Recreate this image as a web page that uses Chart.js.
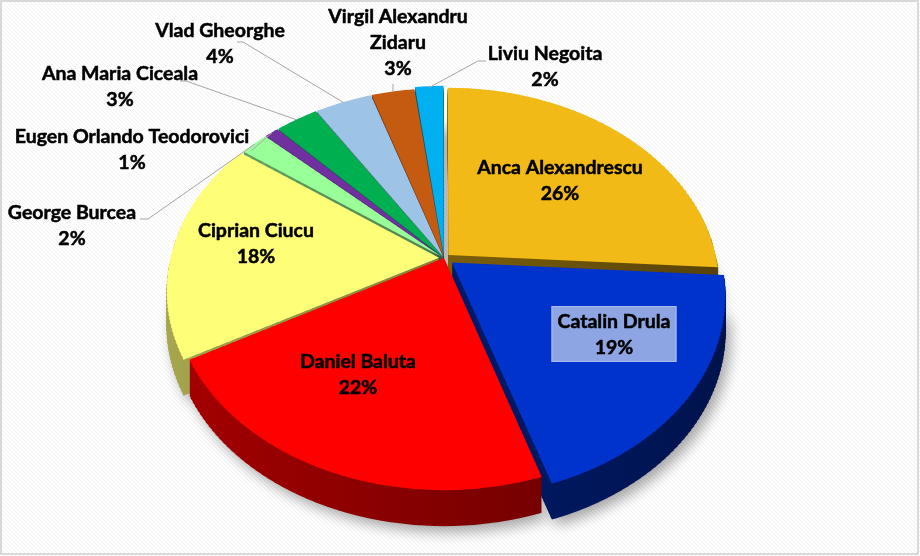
<!DOCTYPE html>
<html>
<head>
<meta charset="utf-8">
<script src="https://cdn.jsdelivr.net/npm/chart.js@4/dist/chart.umd.min.js"></script>
<style>
  html, body { margin: 0; padding: 0; background: #fff; }
</style>
</head>
<body>
<canvas id="votesChart" width="920" height="556"></canvas>
<script>
// Data (percent of votes)
const candidates = [
    'Anca Alexandrescu', 'Catalin Drula', 'Daniel Baluta', 'Ciprian Ciucu', 'George Burcea',
    'Eugen Orlando Teodorovici', 'Ana Maria Ciceala', 'Vlad Gheorghe', 'Virgil Alexandru Zidaru', 'Liviu Negoita'
];
const shares = [26, 19, 22, 18, 2, 1, 3, 4, 3, 2];
const sliceColors = ['#F2BA16', '#0033CC', '#FF0000', '#FFFF77', '#99FF99', '#7030A0', '#00B050', '#9DC3E6', '#C55A11', '#00B0F0'];
const sliceOffsets = [24, 40, 0, 20, 8, 8, 8, 8, 8, 16];

// Label layout (text anchor, optional leader line start, optional box / wrap)
const labelLayout = [
    { x: 560, y: 168 },
    { x: 614, y: 322, box: true },
    { x: 358, y: 362 },
    { x: 256, y: 231 },
    { x: 72, y: 213, leader: [[140, 219], [148, 219]] },
    { x: 132, y: 137, leader: [[252, 150]] },
    { x: 120, y: 74, leader: [[180, 81], [186, 81]] },
    { x: 220, y: 31, leader: [[237, 42], [243, 42]] },
    { x: 398, y: 17, wrap: true, leader: [[393, 84]] },
    { x: 545, y: 54, leader: [[486, 61], [478, 61]] }
];

const W = 920, H = 556;
const cx = 444, cy = 258;      // apex of the pie
const R = 268;
const persp = 0.16 / R;        // perspective strength
const sx0 = 1.0, sy0 = 0.7276; // horizontal / vertical scale at the apex
const depth = 36;
const lineH = 26;
const bandH = 4;

function shade(hex, f) {
    const n = parseInt(hex.slice(1), 16);
    const r = Math.round(((n >> 16) & 255) * f);
    const g = Math.round(((n >> 8) & 255) * f);
    const b = Math.round((n & 255) * f);
    return `rgb(${r},${g},${b})`;
}

// chart plane (pixels) -> tilted screen position
function project(px, py) {
    const X = px - cx, Y = py - cy;
    const w = 1 - persp * Y;
    return { x: cx + X * sx0 / w, y: cy + Y * sy0 / w };
}

// horizontal screen bands, each drawn with its own affine approximation
const bands = [];
for (let y0 = 66; y0 < 514; y0 += bandH) {
    const u0 = y0 - cy, u1 = y0 + bandH - cy;
    const Y0 = u0 / (sy0 + u0 * persp), Y1 = u1 / (sy0 + u1 * persp);
    const Ym = (Y0 + Y1) / 2;
    const w = 1 - persp * Ym;
    bands.push({ y0: y0, s: sx0 / w, k: sy0 / (w * w), sy: cy + Ym * sy0 / w, Ym: Ym });
}

function arcExtent(arc) {
    const p = arc.getProps(['x', 'y', 'startAngle', 'endAngle', 'outerRadius'], true);
    const off = (arc.options.offset || 0) / 4;
    const mid = (p.startAngle + p.endAngle) / 2;
    const ox = p.x + Math.cos(mid) * off, oy = p.y + Math.sin(mid) * off;
    const r = p.outerRadius + off + 2;
    let min = oy, max = oy;
    for (let j = 0; j <= 24; j++) {
        const a = p.startAngle + (p.endAngle - p.startAngle) * j / 24;
        const y = oy + Math.sin(a) * r;
        min = Math.min(min, y);
        max = Math.max(max, y);
    }
    return { min: project(cx, min).y - 2, max: project(cx, max).y + 2 };
}

function drawBanded(ctx, arcs, ext, dy, styleFor) {
    bands.forEach(B => {
        const list = [];
        arcs.forEach((arc, i) => {
            if (ext[i].min < B.y0 + bandH && ext[i].max > B.y0) list.push(i);
        });
        if (!list.length) return;
        ctx.save();
        ctx.beginPath();
        ctx.rect(0, B.y0 + dy, W, bandH);
        ctx.clip();
        ctx.transform(B.s, 0, 0, B.k, cx - B.s * cx, B.sy + dy - B.k * (cy + B.Ym));
        list.forEach(i => {
            const arc = arcs[i];
            const saved = arc.options;
            if (styleFor) arc.options = Object.assign({}, saved, styleFor(i));
            arc.draw(ctx);
            arc.options = saved;
        });
        ctx.restore();
    });
}

const pie3d = {
    id: 'pie3d',
    beforeDraw(chart) {
        const ctx = chart.ctx;
        ctx.save();
        ctx.fillStyle = '#ffffff';
        ctx.fillRect(0, 0, W, H);
        ctx.strokeStyle = '#f3f3f3';
        ctx.lineWidth = 1;
        ctx.beginPath();
        for (let s = -H; s < W; s += 4) {
            ctx.moveTo(s, 0);
            ctx.lineTo(s + H, H);
        }
        ctx.stroke();
        ctx.strokeStyle = '#d9d9d9';
        ctx.lineWidth = 2;
        ctx.strokeRect(1, 1, W - 3, H - 3);
        ctx.restore();
    },
    beforeDatasetsDraw(chart) {
        const ctx = chart.ctx;
        const arcs = chart.getDatasetMeta(0).data;
        const ext = arcs.map(arcExtent);

        // soft shadow under the pie
        const off = document.createElement('canvas');
        off.width = W;
        off.height = H;
        drawBanded(off.getContext('2d'), arcs, ext, depth, () => ({ backgroundColor: '#000000', borderWidth: 0 }));
        ctx.save();
        ctx.filter = 'blur(7px)';
        ctx.globalAlpha = 0.35;
        ctx.drawImage(off, 5, 6);
        ctx.restore();

        // side walls, stacked from the bottom up
        const sides = sliceColors.map(c => {
            const g = ctx.createLinearGradient(cx - R, 0, cx + R, 0);
            g.addColorStop(0, shade(c, 0.66));
            g.addColorStop(1, shade(c, 0.36));
            return g;
        });
        const sideStyle = i => ({ backgroundColor: sides[i], borderWidth: 0 });
        for (let d = depth; d >= 1; d--) {
            drawBanded(ctx, arcs, ext, d, sideStyle);
        }
        // top faces
        drawBanded(ctx, arcs, ext, 0, null);
        return false;
    },
    afterDraw(chart) {
        const ctx = chart.ctx;
        const arcs = chart.getDatasetMeta(0).data;
        const total = shares.reduce((a, b) => a + b, 0);
        ctx.save();
        ctx.font = 'bold 19.5px Lato';
        ctx.textAlign = 'center';
        ctx.textBaseline = 'middle';
        labelLayout.forEach((L, i) => {
            let lines = [candidates[i]];
            if (L.wrap) {
                const words = candidates[i].split(' ');
                lines = [words.slice(0, -1).join(' '), words[words.length - 1]];
            }
            lines.push(Math.round(shares[i] / total * 100) + '%');

            if (L.leader) {
                const arc = arcs[i];
                const p = arc.getProps(['x', 'y', 'startAngle', 'endAngle', 'outerRadius'], true);
                const a = (p.startAngle + p.endAngle) / 2;
                const r = p.outerRadius + (arc.options.offset || 0) / 4 + 1;
                const end = project(p.x + Math.cos(a) * r, p.y + Math.sin(a) * r);
                ctx.strokeStyle = '#a6a6a6';
                ctx.lineWidth = 1;
                ctx.beginPath();
                L.leader.forEach((pt, k) => k ? ctx.lineTo(pt[0], pt[1]) : ctx.moveTo(pt[0], pt[1]));
                ctx.lineTo(end.x, end.y);
                ctx.stroke();
            }

            if (L.box) {
                const w = Math.max(...lines.map(t => ctx.measureText(t).width)) + 12;
                const top = L.y - 16, bottom = L.y + (lines.length - 1) * lineH + 14;
                ctx.fillStyle = '#8EA5E4';
                ctx.fillRect(L.x - w / 2, top, w, bottom - top);
                ctx.strokeStyle = '#A9BBEC';
                ctx.lineWidth = 1;
                ctx.strokeRect(L.x - w / 2 + 0.5, top + 0.5, w - 1, bottom - top - 1);
            }

            ctx.fillStyle = '#000000';
            ctx.strokeStyle = '#000000';
            ctx.lineWidth = 0.5;
            lines.forEach((t, j) => {
                ctx.fillText(t, L.x, L.y + j * lineH);
                ctx.strokeText(t, L.x, L.y + j * lineH);
            });
        });
        ctx.restore();
    }
};

new Chart(document.getElementById('votesChart'), {
    type: 'pie',
    data: {
        labels: candidates,
        datasets: [{
            data: shares,
            backgroundColor: sliceColors,
            borderWidth: 0,
            offset: sliceOffsets,
            hoverOffset: 0,
            radius: R
        }]
    },
    options: {
        responsive: false,
        animation: false,
        events: [],
        layout: { padding: { left: 0, right: 32, top: 0, bottom: 40 } },
        plugins: {
            legend: { display: false },
            tooltip: { enabled: false }
        }
    },
    plugins: [pie3d]
});
</script>
</body>
</html>
